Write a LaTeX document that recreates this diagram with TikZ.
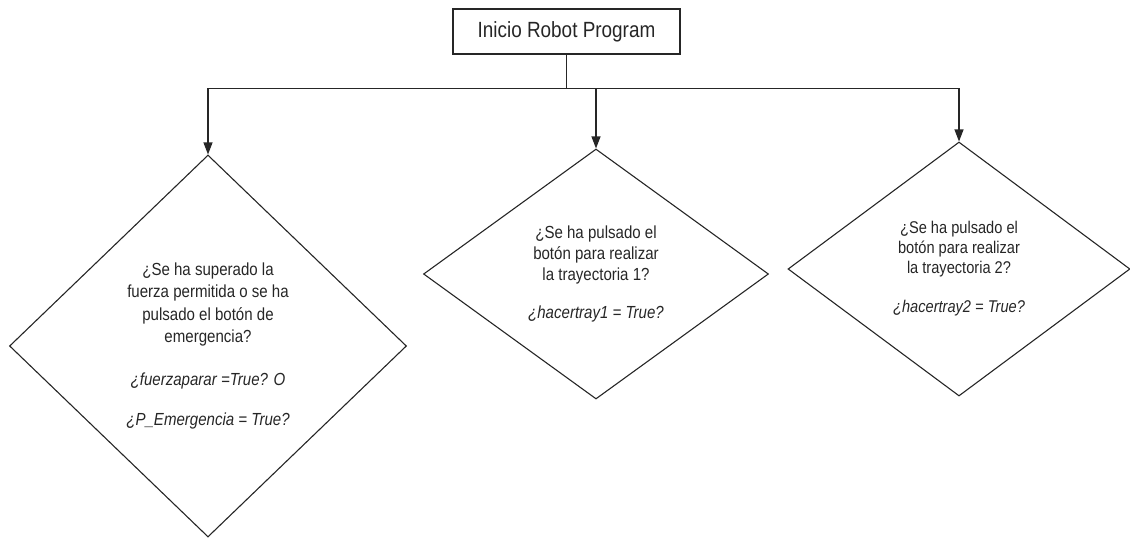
\documentclass[tikz,border=0pt]{standalone}
\usepackage{fontspec}
\setmainfont{Liberation Sans}[FakeStretch=0.86]
\usetikzlibrary{shapes.geometric,arrows.meta}
\tikzset{
  x=1pt,y=1pt,
  line/.style={draw=black!85,line width=1.1pt},
  arr/.style={line,-{Triangle[length=12pt,width=9pt]}},
  startbox/.style={draw=black!85,line width=1.1pt,rectangle,minimum width=227,minimum height=45,inner sep=0,font=\fontsize{22}{26}\selectfont,text=black!85},
  dia/.style={draw=black!85,line width=1.1pt,diamond,inner sep=0,align=center,text=black!85,font=\fontsize{17.5}{22.5}\selectfont},
}
\begin{document}
\begin{tikzpicture}
\useasboundingbox (0,0) rectangle (1130,-538);
\node[startbox] (start) at (566.5,-31.5) {Inicio Robot Program};
\node[dia,minimum width=397,minimum height=382] (d1) at (208,-346)
  {¿Se ha superado la\\fuerza permitida o se ha\\pulsado el botón de\\emergencia?\\[20pt]
   \textit{¿fuerzaparar =True? O}\\[18pt]\textit{¿P\_Emergencia = True?}};
\node[dia,minimum width=345,minimum height=250,font=\fontsize{17.5}{21}\selectfont] (d2) at (596,-274)
  {¿Se ha pulsado el\\botón para realizar\\la trayectoria 1?\\[17pt]\textit{¿hacertray1 = True?}};
\node[dia,minimum width=342,minimum height=254,font=\fontsize{17}{20}\selectfont] (d3) at (959,-269)
  {¿Se ha pulsado el\\botón para realizar\\la trayectoria 2?\\[19pt]\textit{¿hacertray2 = True?}};
\draw[line] (start.south) -- ++(0,-34) coordinate (j);
\draw[line] (d1.north |- j) -- (d3.north |- j);
\draw[arr] (j) -| (d1.north);
\draw[arr] (j) -| (d2.north);
\draw[arr] (j) -| (d3.north);
\end{tikzpicture}
\end{document}
